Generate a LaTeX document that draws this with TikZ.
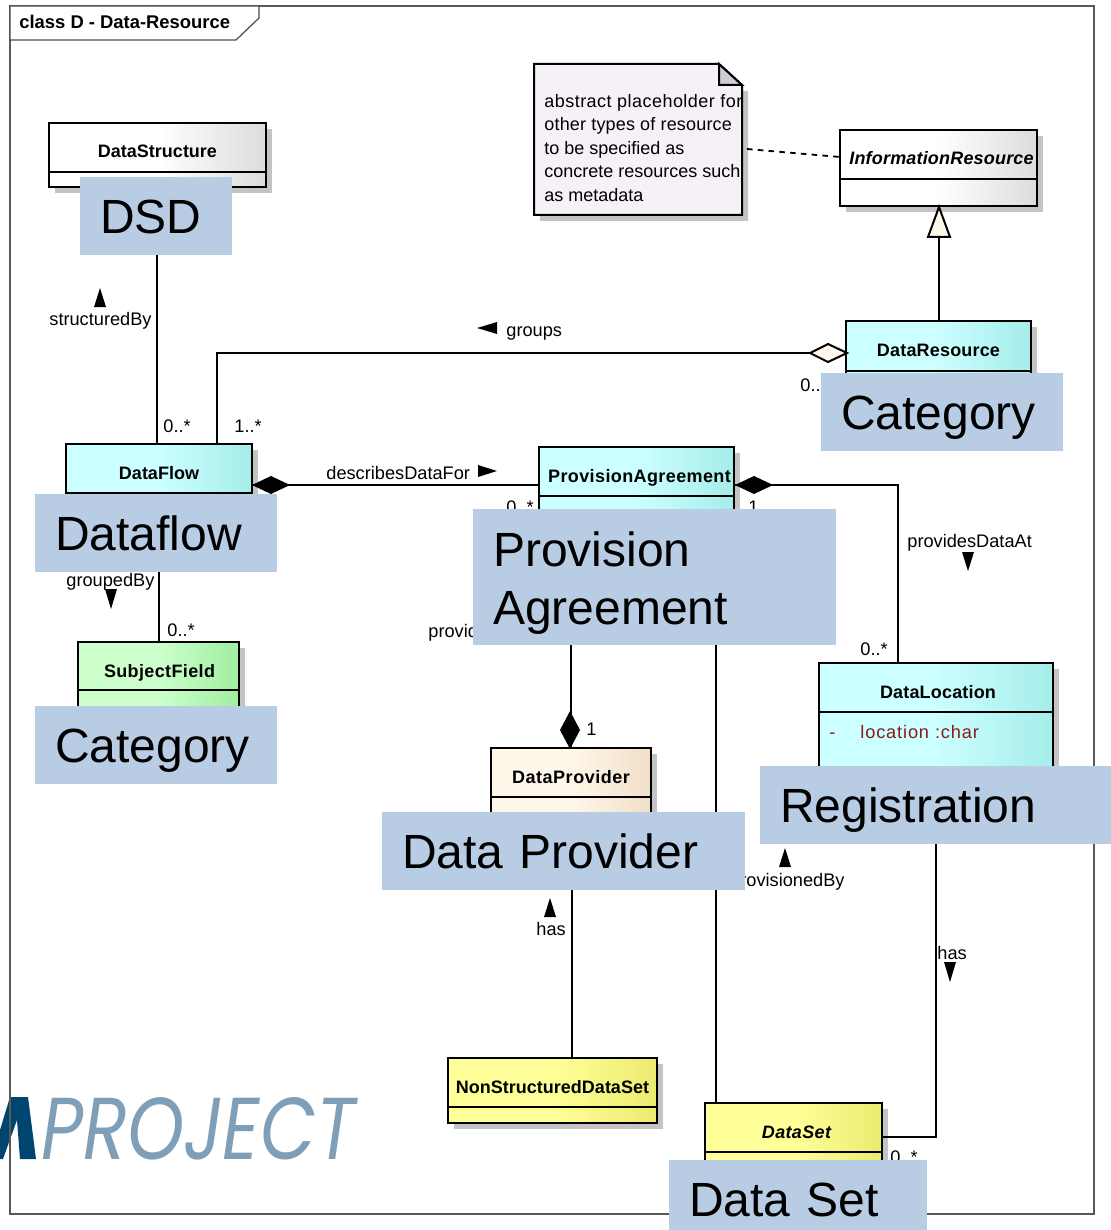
\documentclass[tikz,border=0pt]{standalone}
\usepackage{fontspec}
\setmainfont{Liberation Sans}
\newfontfamily\logofont{Poppins}
\usetikzlibrary{fit}
\pgfdeclarelayer{under}
\pgfsetlayers{under,main}
\definecolor{bluebox}{HTML}{B8CCE4}
\definecolor{shadowc}{HTML}{C4C4C4}
\definecolor{wA}{HTML}{FFFFFF}\definecolor{wB}{HTML}{DCDCDC}
\definecolor{cA}{HTML}{CCFFFF}\definecolor{cB}{HTML}{A5EDEA}
\definecolor{gA}{HTML}{CCFFCC}\definecolor{gB}{HTML}{A0EEA0}
\definecolor{yA}{HTML}{FFFF99}\definecolor{yB}{HTML}{EBEB70}
\definecolor{bA}{HTML}{FFF7EA}\definecolor{bB}{HTML}{F0DFC8}
\definecolor{noteA}{HTML}{F6F1F6}
\definecolor{foldc}{HTML}{D0CCD4}
\definecolor{attr}{HTML}{8B1A1A}
\definecolor{logolight}{HTML}{7F9FB8}
\definecolor{logodark}{HTML}{00456F}
\tikzset{
  x=0.5pt,y=-0.5pt,
  conn/.style={draw=black,line width=1pt},
  umlbox/.style={inner sep=0pt,outer sep=0pt,draw=black,line width=1pt},
  lab/.style={font=\fontsize{9.1}{11}\selectfont,inner sep=0pt,text=black},
  ttl/.style={font=\fontsize{9}{11}\selectfont\bfseries,inner sep=0pt},
  tagbox/.style={fill=bluebox,inner ysep=0pt,outer sep=0pt,align=left,anchor=north west,
    font=\fontsize{24}{29}\selectfont,inner xsep=10pt,text=black,text height=17.5pt,text depth=0pt},
  notetxt/.style={font=\fontsize{9}{11}\selectfont,inner sep=0pt,anchor=base west},
}
% name, x1, y1, x2, y2, separator y, colour letter, font extra, title
\newcommand{\umlclass}[9]{%
  \fill[shadowc] (#2+6,#3+6) rectangle (#4+6,#5+6);
  \node[umlbox,fit={(#2,#3)(#4,#5)},left color=#7A,right color=#7B,middle color=#7A] (#1) {};
  \draw[line width=1pt] (#2,#6) -- (#4,#6);
  \node[ttl,anchor=base] (#1-t) at ({(#2+#4)/2},#3+35) {#8#9};
}
\newcommand{\tagnode}[6]{%
  \pgfmathsetmacro\tagw{(#4-#2)*0.5-20}%
  \node[tagbox,text width=\tagw pt,minimum height=#5*0.5pt-#3*0.5pt] (#1) at (#2,#3) {#6};
}
\newcommand{\pointer}[3]{\fill (#1) -- (#2) -- (#3) -- cycle;}
\begin{document}
\begin{tikzpicture}
\clip (0,0) rectangle (1111,1230);
% tags, on top of everything else
\tagnode{tdsd}{80}{177}{232}{255}{DSD}
\tagnode{tcat1}{821}{373}{1063}{451}{Category}
\tagnode{tflow}{35}{494}{277}{572}{Dataflow}
\node[tagbox,text width=161.5pt,text depth=28.5pt,minimum height=68pt] (tpa) at (473,509) {Provision\\Agreement};
\tagnode{tcat2}{35}{706}{277}{784}{Category}
\tagnode{treg}{760}{766}{1111}{844}{Registration}
\tagnode{tprov}{382}{812}{745}{890}{Data Provider}
\tagnode{tset}{669}{1160}{927}{1238}{Data Set}
\begin{pgfonlayer}{under}
\fill[white] (0,0) rectangle (1111,1230);
% logo
\fill[logodark] (10,1097) -- (28,1097) -- (36,1159) -- (20,1159) -- (17,1120) -- (3,1159) -- (0,1159) -- (0,1130) -- cycle;
\node[inner sep=0pt,anchor=base west,text=logolight,font=\logofont\itshape] (logo) at (41,1159)
  {\resizebox{157pt}{31pt}{PROJECT}};
% frame
\draw[draw=black!65,line width=0.8pt] (10,6) rectangle (1094,1214);
\draw[draw=black!70,fill=white,line width=0.6pt] (10,6) -- (259,6) -- (259,18) -- (236,40) -- (10,40) -- cycle;
\node[ttl,anchor=base west,font=\fontsize{9.2}{11}\selectfont\bfseries] (frametitle) at (19,29) {class D - Data-Resource};
% classes
\umlclass{ds}{49}{123}{266}{187}{172}{w}{}{DataStructure}
\umlclass{ir}{840}{130}{1037}{206}{179}{w}{\itshape\addfontfeature{LetterSpace=1}\hspace*{3pt}}{InformationResource}
\umlclass{dr}{846}{321}{1031}{430}{371}{c}{\addfontfeature{LetterSpace=1}}{DataResource}
\umlclass{df}{66}{444}{252}{560}{493}{c}{}{DataFlow}
\umlclass{pa}{539}{447}{734}{630}{496}{c}{\addfontfeature{LetterSpace=2.2}\hspace*{3pt}}{ProvisionAgreement}
\umlclass{sf}{78}{642}{239}{760}{690}{g}{\addfontfeature{LetterSpace=2}\hspace*{1pt}}{SubjectField}
\umlclass{dl}{819}{663}{1053}{800}{712}{c}{\addfontfeature{LetterSpace=1}\hspace*{2pt}}{DataLocation}
\umlclass{dp}{491}{748}{651}{870}{797}{b}{\addfontfeature{LetterSpace=3}}{DataProvider}
\umlclass{ns}{448}{1058}{657}{1123}{1107}{y}{}{NonStructuredDataSet}
\umlclass{dset}{705}{1103}{882}{1200}{1152}{y}{\itshape\addfontfeature{LetterSpace=2}\hspace*{3pt}}{DataSet}
% note
\fill[shadowc] (540,80) -- (748,91) -- (748,221) -- (540,221) -- cycle;
\node[fit={(534,64)(742,215)},inner sep=0pt,outer sep=0pt] (note) {};
\draw[line width=1pt,fill=noteA] (534,64) -- (719,64) -- (742,85) -- (742,215) -- (534,215) -- cycle;
\draw[line width=1pt,fill=foldc] (719,64) -- (742,85) -- (719,85) -- cycle;
\node[notetxt] (n1) at (544,108) {\addfontfeature{LetterSpace=2.6}abstract placeholder for};
\node[notetxt] (n2) at (544,131) {\addfontfeature{LetterSpace=1}other types of resource};
\node[notetxt] (n3) at (544,155) {to be specified as};
\node[notetxt] (n4) at (544,178) {concrete resources such};
\node[notetxt] (n5) at (544,202) {as metadata};
% connectors
\draw[conn] (157,0 |- tdsd.south) -- (157,0 |- df.north);
\draw[conn] (217,0 |- df.north) -- (217,353) -- (810,353);
\draw[conn] (df.east |- 0,485) -- (pa.west |- 0,485);
\draw[conn] (pa.east |- 0,485) -- (898,485) -- (898,0 |- dl.north);
\draw[conn] (159,0 |- tflow.south) -- (159,0 |- sf.north);
\draw[conn] (571,0 |- tpa.south) -- (571,0 |- dp.north);
\draw[conn] (572,0 |- tprov.south) -- (572,0 |- ns.north);
\draw[conn] (716,0 |- tpa.south) -- (716,0 |- dset.north);
\draw[conn] (939,0 |- ir.south) -- (939,0 |- dr.north);
\draw[conn] (dset.east |- 0,1137) -- (936,1137) -- (936,0 |- treg.south);
\draw[line width=0.9pt,dash pattern=on 2.8pt off 2.6pt] (747,149) -- (ir.west |- 0,157);
% aggregation ends
\draw[line width=1pt,fill=bA] (847,353) -- (828,344) -- (810,353) -- (828,362) -- cycle;
\fill (252,485) -- (271,476) -- (290,485) -- (271,494) -- cycle;
\fill (735,485) -- (754,476) -- (773,485) -- (754,494) -- cycle;
\fill (570,711) -- (580,730) -- (570,749) -- (560,730) -- cycle;
\draw[line width=1pt,fill=bA] (939,207) -- (950,237) -- (928,237) -- cycle;
% pointers
\pointer{100,288}{106,307}{94,307}
\pointer{477,328}{497,322}{497,334}
\pointer{497,471}{478,465}{478,477}
\pointer{968,571}{962,552}{974,552}
\pointer{111,609}{105,589}{117,589}
\pointer{785,848}{791,867}{779,867}
\pointer{550,898}{556,917}{544,917}
\pointer{950,982}{944,962}{956,962}
% labels
\node[lab,anchor=base west] (l1) at (49,325) {structuredBy};
\node[lab,anchor=base west] (l2) at (506,336) {groups};
\node[lab,anchor=base west] (l3) at (326,479) {describesDataFor};
\node[lab,anchor=base west] (l4) at (907,547) {providesDataAt};
\node[lab,anchor=base west] (l5) at (66,586) {groupedBy};
\node[lab,anchor=base west] (l6) at (428,637) {provid};
\node[lab,anchor=base east] (l7) at (845,886) {provisionedBy};
\node[lab,anchor=base west] (l8) at (536,935) {has};
\node[lab,anchor=base west] (l9) at (937,959) {has};
\node[lab,anchor=base west] (m1) at (163,432) {0..*};
\node[lab,anchor=base west] (m2) at (234,432) {1..*};
\node[lab,anchor=base west] (m3) at (800,391) {0..*};
\node[lab,anchor=base west] (m4) at (506,513) {0..*};
\node[lab,anchor=base west] (m5) at (748,513) {1};
\node[lab,anchor=base west] (m6) at (860,655) {0..*};
\node[lab,anchor=base west] (m7) at (167,636) {0..*};
\node[lab,anchor=base west] (m8) at (586,735) {1};
\node[lab,anchor=base west] (m9) at (890,1163) {0..*};
\node[lab,anchor=base west,text=attr] (a1) at (829,738) {-};
\node[lab,anchor=base west,text=attr] (a2) at (860,738) {\addfontfeature{LetterSpace=4.7}location :char};
\end{pgfonlayer}
\end{tikzpicture}
\end{document}
